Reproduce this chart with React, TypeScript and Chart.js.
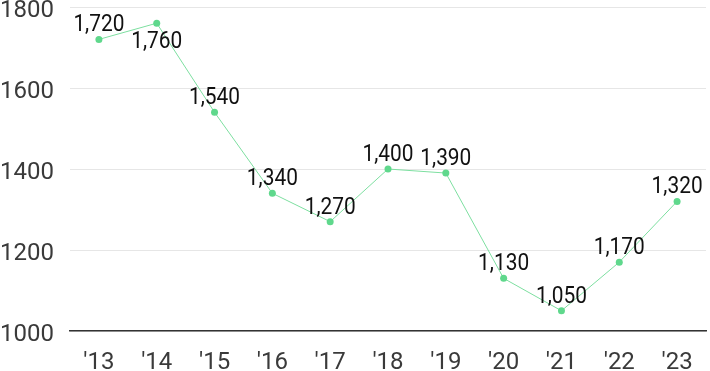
import React, { useEffect, useRef } from "react";
import { Chart, registerables } from "chart.js";

Chart.register(...registerables);

const categories: string[] = ["'13", "'14", "'15", "'16", "'17", "'18", "'19", "'20", "'21", "'22", "'23"];
const values: number[] = [1720, 1760, 1540, 1340, 1270, 1400, 1390, 1130, 1050, 1170, 1320];
const labelsBelow: number[] = [1];
const yTicks: number[] = [1000, 1200, 1400, 1600, 1800];

const FONT = "Roboto, 'Noto Sans', sans-serif";

const valueLabelPlugin = {
  id: "valueLabels",
  afterDatasetsDraw(chart: any) {
    const ctx = chart.ctx;
    const meta = chart.getDatasetMeta(0);
    const sx = 0.87;
    ctx.save();
    ctx.font = `24px ${FONT}`;
    ctx.fillStyle = "#111111";
    ctx.textAlign = "center";
    ctx.textBaseline = "middle";
    meta.data.forEach((pt: any, i: number) => {
      const v = values[i];
      const text = v.toLocaleString("en-US");
      const below = labelsBelow.includes(i);
      const y = below ? pt.y + 19 : pt.y - 14;
      ctx.save();
      ctx.translate(pt.x, y);
      ctx.scale(sx, 1);
      ctx.fillText(text, 0, 0);
      ctx.restore();
    });
    ctx.restore();
  },
};

export default function App() {
  const ref = useRef<HTMLCanvasElement | null>(null);
  useEffect(() => {
    if (!ref.current) return;
    const chart = new Chart(ref.current, {
      type: "line",
      data: {
        labels: categories,
        datasets: [
          {
            data: values,
            borderColor: "#7ddfa0",
            borderWidth: 1,
            backgroundColor: "#5fd88c",
            pointBackgroundColor: "#5fd88c",
            pointBorderColor: "#5fd88c",
            pointRadius: 3.5,
            pointBorderWidth: 0,
            tension: 0,
            fill: false,
          },
        ],
      },
      options: {
        animation: false,
        responsive: true,
        maintainAspectRatio: false,
        layout: { padding: 0 },
        plugins: {
          legend: { display: false },
          tooltip: { enabled: false },
        },
        scales: {
          x: {
            offset: true,
            grid: { display: false, drawTicks: false },
            border: { display: true, color: "#333333", width: 1.5 },
            ticks: {
              color: "#3a3a3a",
              font: { family: FONT, size: 24, lineHeight: 1.2 },
              padding: 18,
              maxRotation: 0,
              autoSkip: false,
            },
            afterFit: (scale: any) => {
              scale.height = 40;
              scale.paddingLeft = 0;
              scale.paddingRight = 0;
            },
          },
          y: {
            min: 1000,
            max: 1800,
            afterBuildTicks: (scale: any) => {
              scale.ticks = yTicks.map((v) => ({ value: v }));
            },
            grid: { color: "#e6e6e6", drawTicks: false, lineWidth: 1 },
            border: { display: false },
            ticks: {
              color: "#3a3a3a",
              font: { family: FONT, size: 24, lineHeight: 1.2 },
              crossAlign: "far",
              padding: 0,
              labelOffset: 4,
              callback: (v: any) => String(v),
            },
            afterFit: (scale: any) => {
              scale.width = 70;
              scale.paddingTop = 7;
              scale.paddingBottom = 0;
            },
          },
        },
      },
      plugins: [valueLabelPlugin],
    });
    return () => chart.destroy();
  }, []);
  return (
    <div style={{ position: "absolute", left: 0, top: 0, width: 710, height: 371 }}>
      <canvas ref={ref} />
    </div>
  );
}
